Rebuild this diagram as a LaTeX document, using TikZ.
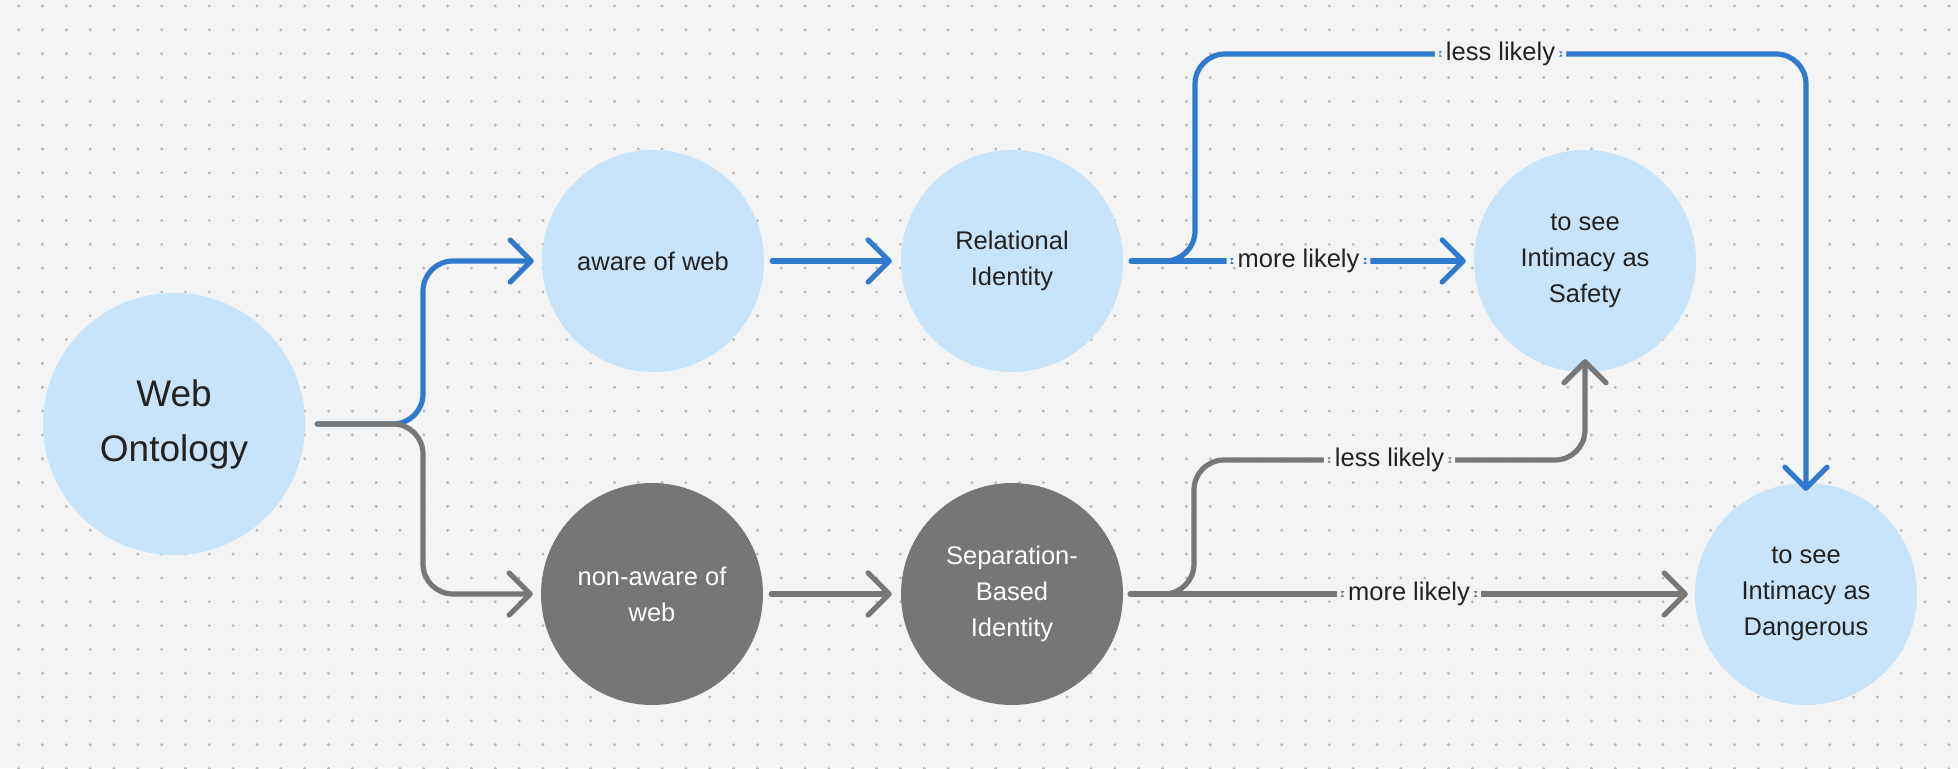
\documentclass[tikz,border=0pt]{standalone}
\usepackage{fontspec}
\setmainfont{Liberation Sans}
\usetikzlibrary{arrows.meta}
\definecolor{bgc}{HTML}{F4F4F4}
\definecolor{dotc}{HTML}{B8B8B8}
\definecolor{lightc}{HTML}{C8E4FA}
\definecolor{darkc}{HTML}{767676}
\definecolor{bluec}{HTML}{2F7ACF}
\definecolor{grayc}{HTML}{777777}
\definecolor{txtc}{HTML}{222222}
\tikzset{
  lightnode/.style={circle, fill=lightc, draw=none, minimum size=222pt, inner sep=0pt, text=txtc, align=center, font=\fontsize{25.5}{36}\selectfont},
  darknode/.style={lightnode, fill=darkc, text=white},
  conn/.style={line width=5.2pt, line cap=round, line join=round, rounded corners=30pt, -{Straight Barb[length=21pt,width=42pt,round]}},
  blueconn/.style={conn, draw=bluec},
  grayconn/.style={conn, draw=grayc},
  lbl/.style={fill=bgc, text=txtc, inner xsep=11pt, inner ysep=1.5pt, font=\fontsize{25.5}{30}\selectfont}
}
\begin{document}
\begin{tikzpicture}[x=1pt, y=-1pt]
\useasboundingbox (0,0) rectangle (1958,768);
\fill[bgc] (0,0) rectangle (1958,768);
\foreach \i in {0,...,81} {
  \foreach \j in {0,...,32} {
    \fill[dotc] (18.7+23.83*\i, 6+23.83*\j) circle (1.6);
  }
}
% nodes
\node[lightnode, minimum size=262pt, font=\fontsize{37}{55}\selectfont] (web) at (174,424) {Web\\Ontology};
\node[lightnode] (aware) at (653,261) {aware of web};
\node[lightnode] (rel) at (1012,261) {Relational\\Identity};
\node[lightnode] (safe) at (1585,261) {to see\\Intimacy as\\Safety};
\node[darknode] (non) at (652,594) {non-aware of\\web};
\node[darknode] (sep) at (1012,594) {Separation-\\Based\\Identity};
\node[lightnode] (dang) at (1806,594) {to see\\Intimacy as\\Dangerous};
% junction coordinates
\coordinate (j1) at (423,424);
\coordinate (j2) at (1195,261);
\coordinate (j3) at (1194,594);
\coordinate (top) at (1195,54);
\coordinate (mid) at (1194,460);
% connectors
\draw[blueconn] ([xshift=12pt]web.east) -- (j1) |- ([xshift=-8pt]aware.west);
\draw[grayconn] ([xshift=12pt]web.east) -- (j1) |- ([xshift=-8pt]non.west);
\draw[blueconn] ([xshift=8pt]aware.east) -- ([xshift=-9pt]rel.west);
\draw[grayconn] ([xshift=8pt]non.east) -- ([xshift=-9pt]sep.west);
\draw[blueconn] ([xshift=8pt]rel.east) -- (j2) -- (top) -| node[lbl, pos=0.25] {less likely} ([yshift=-8pt]dang.north);
\draw[blueconn] ([xshift=8pt]rel.east) -- node[lbl] {more likely} ([xshift=-8pt]safe.west);
\draw[grayconn] ([xshift=7pt]sep.east) -- (j3) -- (mid) -| node[lbl, pos=0.25] {less likely} ([yshift=13pt]safe.south);
\draw[grayconn] ([xshift=7pt]sep.east) -- node[lbl] {more likely} ([xshift=-7pt]dang.west);
\end{tikzpicture}
\end{document}
